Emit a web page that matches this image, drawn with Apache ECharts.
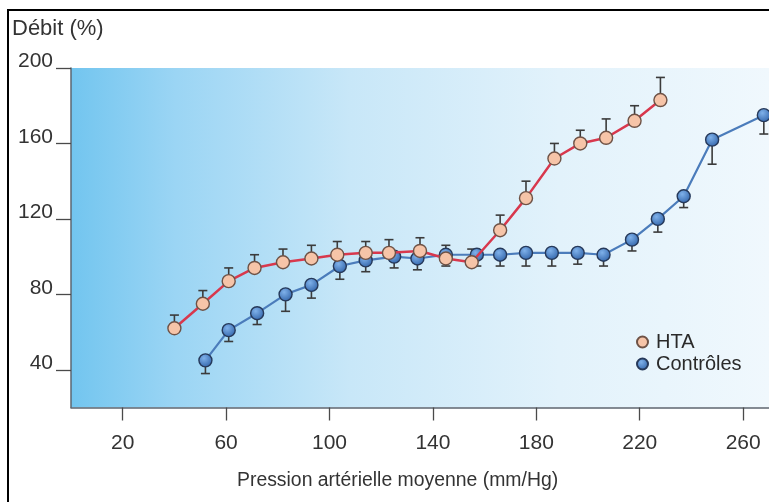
<!DOCTYPE html>
<html>
<head>
<meta charset="utf-8">
<script src="https://cdn.jsdelivr.net/npm/echarts@6/dist/echarts.min.js"></script>
<style>html,body{margin:0;padding:0;background:#fff}#c{width:769px;height:502px}</style>
</head>
<body>
<div id="c"></div>
<script>
// ---- data ----
var xTicks = [20, 60, 100, 140, 180, 220, 260];
var yTicks = [40, 80, 120, 160, 200];

var htaX   = [40, 51, 61, 71, 82, 93, 103, 114, 123, 135, 145, 155, 166, 176, 187, 197, 207, 218, 228];
var htaY   = [62, 75, 87, 94, 97, 99, 101, 102, 102, 103, 99, 97, 114, 131, 152, 160, 163, 172, 183];
var htaErr = [7, 7, 7, 7, 7, 7, 7, 6, 7, 7, 7, 7, 8, 9, 8, 7, 10, 8, 12];

var ctrlX   = [52, 61, 72, 83, 93, 104, 114, 125, 134, 145, 157, 166, 176, 186, 196, 206, 217, 227, 237, 248, 268];
var ctrlY   = [45, 61, 70, 80, 85, 95, 98, 100, 99, 101, 101, 101, 102, 102, 102, 101, 109, 120, 132, 162, 175];
var ctrlErr = [7, 6, 6, 9, 7, 7, 6, 6, 6, 6, 6, 6, 7, 7, 6, 6, 6, 7, 6, 13, 10];

var seriesNames = ['HTA', 'Contrôles'];
var yName = 'Débit (%)';
var xName = 'Pression artérielle moyenne (mm/Hg)';

// ---- build ----
function pairs(xs, ys) { return xs.map(function (x, i) { return [x, ys[i]]; }); }
function errData(xs, ys, es, dir) { return xs.map(function (x, i) { return [x, ys[i], es[i], dir]; }); }

function errRender(params, api) {
  var x = api.value(0), y = api.value(1), e = api.value(2), d = api.value(3);
  var p0 = api.coord([x, y]);
  var p1 = api.coord([x, y + d * e]);
  var st = { stroke: '#3b3b3b', lineWidth: 1.6 };
  return {
    type: 'group',
    children: [
      { type: 'line', shape: { x1: p0[0], y1: p0[1], x2: p1[0], y2: p1[1] }, style: st },
      { type: 'line', shape: { x1: p1[0] - 4.5, y1: p1[1], x2: p1[0] + 4.5, y2: p1[1] }, style: st }
    ]
  };
}

var FONT = 'Liberation Sans, Arial, Helvetica, sans-serif';
var chart = echarts.init(document.getElementById('c'), null, { renderer: 'canvas' });

var option = {
  animation: false,
  textStyle: { fontFamily: FONT },
  grid: {
    left: 71, top: 68, width: 699, height: 339.5,
    show: true, borderWidth: 0,
    backgroundColor: new echarts.graphic.LinearGradient(0, 0, 1, 0, [
      { offset: 0, color: '#72c5ef' },
      { offset: 0.15, color: '#9bd5f4' },
      { offset: 0.4, color: '#c8e7f8' },
      { offset: 0.7, color: '#e2f2fb' },
      { offset: 1, color: '#f0f8fd' }
    ])
  },
  xAxis: {
    type: 'value', min: 0, max: 270,
    splitLine: { show: false },
    axisLine: { show: true, lineStyle: { color: '#5d6670', width: 1.5 } },
    axisTick: { show: true, length: 13, customValues: xTicks, lineStyle: { color: '#4a4a4a', width: 1.3 } },
    axisLabel: { customValues: xTicks, margin: 25, fontSize: 21, color: '#333', fontFamily: FONT }
  },
  yAxis: {
    type: 'value', min: 20, max: 200,
    splitLine: { show: false },
    axisLine: { show: true, lineStyle: { color: '#5d6670', width: 1.5 } },
    axisTick: { show: true, length: 15, customValues: yTicks, lineStyle: { color: '#4a4a4a', width: 1.3 } },
    axisLabel: { customValues: yTicks, margin: 18, fontSize: 21, color: '#333', fontFamily: FONT, verticalAlign: 'bottom', lineHeight: 13 }
  },
  legend: {
    data: seriesNames,
    orient: 'vertical', left: 631, top: 327, itemGap: 2,
    icon: 'circle', itemWidth: 11, itemHeight: 11,
    textStyle: { fontSize: 20, color: '#2a2a2a', fontFamily: FONT, padding: [0, 0, 0, 3] }
  },
  graphic: [
    { type: 'rect', silent: true, z: 100, shape: { x: 8, y: 10, width: 900, height: 700 }, style: { fill: 'none', stroke: '#000', lineWidth: 2 } },
    { type: 'text', left: 12, top: 18, style: { text: yName, fontSize: 22, fill: '#333', fontFamily: FONT } },
    { type: 'text', left: 237, top: 471, style: { text: xName, fontSize: 19.4, fill: '#333', fontFamily: FONT } }
  ],
  series: [
    { type: 'custom', name: 'errC', renderItem: errRender, data: errData(ctrlX, ctrlY, ctrlErr, -1), z: 2, encode: { x: 0, y: 1 } },
    { type: 'custom', name: 'errH', renderItem: errRender, data: errData(htaX, htaY, htaErr, 1), z: 2, encode: { x: 0, y: 1 } },
    {
      type: 'line', name: seriesNames[1], data: pairs(ctrlX, ctrlY), z: 3,
      symbol: 'circle', symbolSize: 13, showSymbol: true,
      lineStyle: { color: '#4b7cbb', width: 2.2 },
      itemStyle: {
        color: new echarts.graphic.RadialGradient(0.4, 0.35, 0.7, [
          { offset: 0, color: '#7fb1ea' }, { offset: 1, color: '#2f62a8' }
        ]),
        borderColor: '#26395a', borderWidth: 1.4
      }
    },
    {
      type: 'line', name: seriesNames[0], data: pairs(htaX, htaY), z: 4,
      symbol: 'circle', symbolSize: 13, showSymbol: true,
      lineStyle: { color: '#d8384d', width: 2.5 },
      itemStyle: { color: '#f6c4a8', borderColor: '#6e5246', borderWidth: 1.4 }
    }
  ]
};
chart.setOption(option);
</script>
</body>
</html>
